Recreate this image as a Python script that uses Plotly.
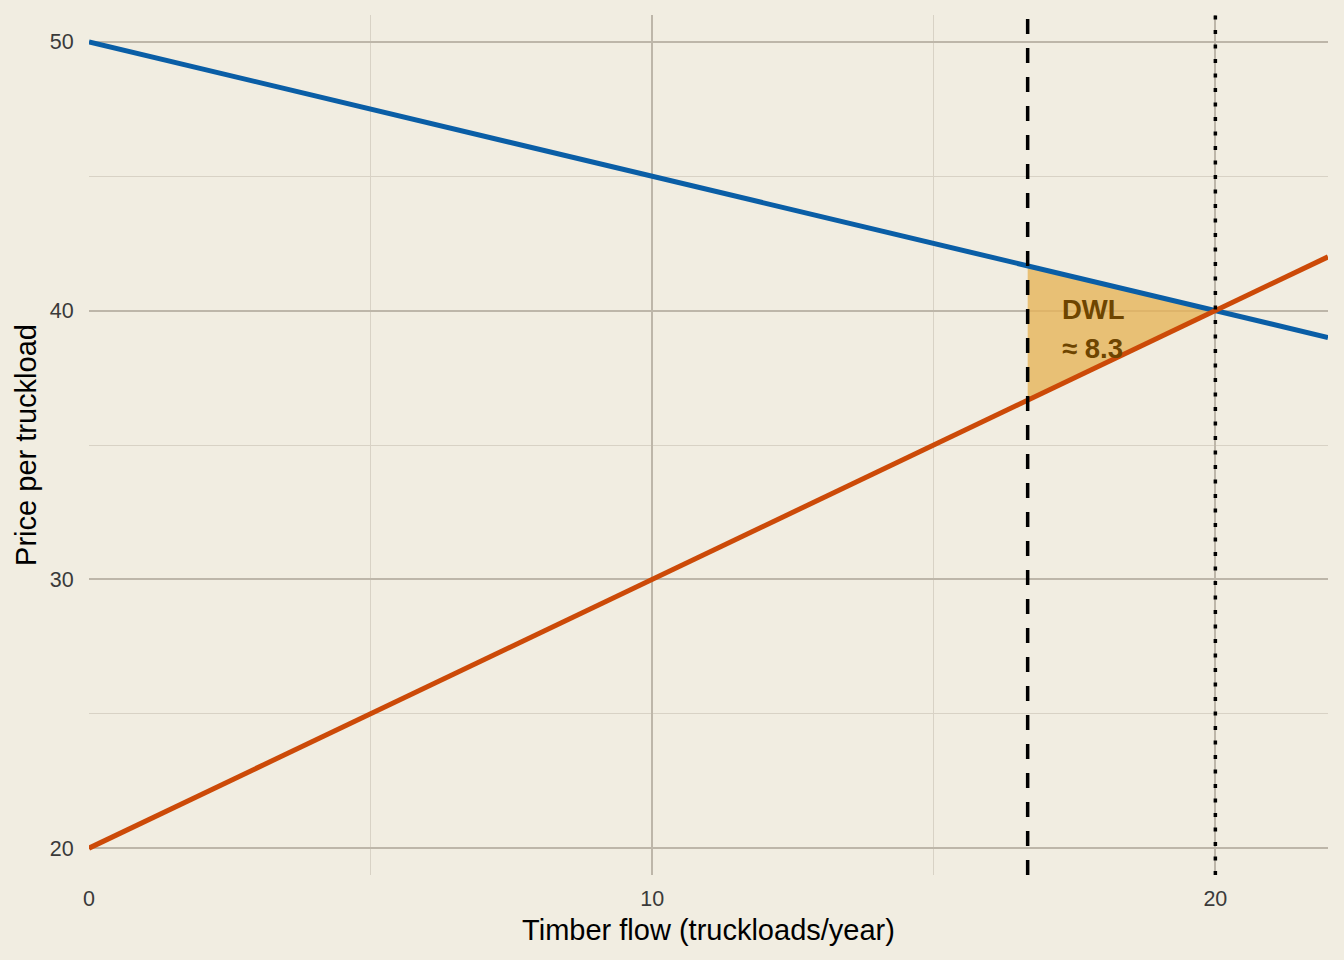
import plotly.graph_objects as go

# supply / demand for timber
qty = [0, 22]
demand = [50, 39]
supply = [20, 42]

q_tax = 16.667
q_eq = 20
p_eq = 40
p_demand_tax = 41.667
p_supply_tax = 36.667

dwl_x = [q_tax, q_eq, q_tax]
dwl_y = [p_demand_tax, p_eq, p_supply_tax]
dwl_label = ["DWL", "≈ 8.3"]
dwl_label_y = [40.05, 38.6]

fig = go.Figure()

fig.add_trace(go.Scatter(x=dwl_x, y=dwl_y, fill="toself", mode="none",
                         fillcolor="rgba(230,180,90,0.8)", hoverinfo="skip"))
fig.add_trace(go.Scatter(x=qty, y=demand, mode="lines", name="Demand",
                         line=dict(color="#0A5EA6", width=5)))
fig.add_trace(go.Scatter(x=qty, y=supply, mode="lines", name="Supply",
                         line=dict(color="#CC4A08", width=5)))
fig.add_trace(go.Scatter(x=[q_tax, q_tax], y=[19, 51], mode="lines",
                         line=dict(color="black", width=3.5, dash="15px,14px")))
fig.add_trace(go.Scatter(x=[q_eq, q_eq], y=[19, 51], mode="lines",
                         line=dict(color="black", width=3.5, dash="4px,10.5px")))

for txt, yy in zip(dwl_label, dwl_label_y):
    fig.add_annotation(x=17.25, y=yy, text="<b>" + txt + "</b>", showarrow=False,
                       xanchor="left", yanchor="middle",
                       font=dict(size=27.5, color="#6E4500", family="Liberation Sans"))

fig.update_layout(
    width=1344, height=960,
    margin=dict(l=89, r=16, t=15, b=85),
    paper_bgcolor="#F1EDE1", plot_bgcolor="#F1EDE1",
    showlegend=False,
    font=dict(family="Liberation Sans, Arial", color="#3A3A3A"),
)
fig.update_xaxes(range=[0, 22], tickvals=[0, 10, 20], zeroline=False,
                 showgrid=True, gridcolor="#BDB6A9", gridwidth=2,
                 minor=dict(tickvals=[5, 15], showgrid=True, gridcolor="#D8D2C5", gridwidth=1),
                 ticks="outside", ticklen=4, tickcolor="rgba(0,0,0,0)",
                 tickfont=dict(size=21.5, color="#3A3A3A"),
                 title=dict(text="Timber flow (truckloads/year)", font=dict(size=29, color="black"), standoff=9))
fig.update_yaxes(range=[19, 51], tickvals=[20, 30, 40, 50], zeroline=False,
                 showgrid=True, gridcolor="#BDB6A9", gridwidth=2,
                 minor=dict(tickvals=[25, 35, 45], showgrid=True, gridcolor="#D8D2C5", gridwidth=1),
                 ticks="outside", ticklen=10, tickcolor="rgba(0,0,0,0)",
                 tickfont=dict(size=21.5, color="#3A3A3A"),
                 title=dict(text="Price per truckload", font=dict(size=29, color="black"), standoff=4))

fig.write_html("out.html", config={"displayModeBar": False},
               post_script="document.body.style.margin='0';")
